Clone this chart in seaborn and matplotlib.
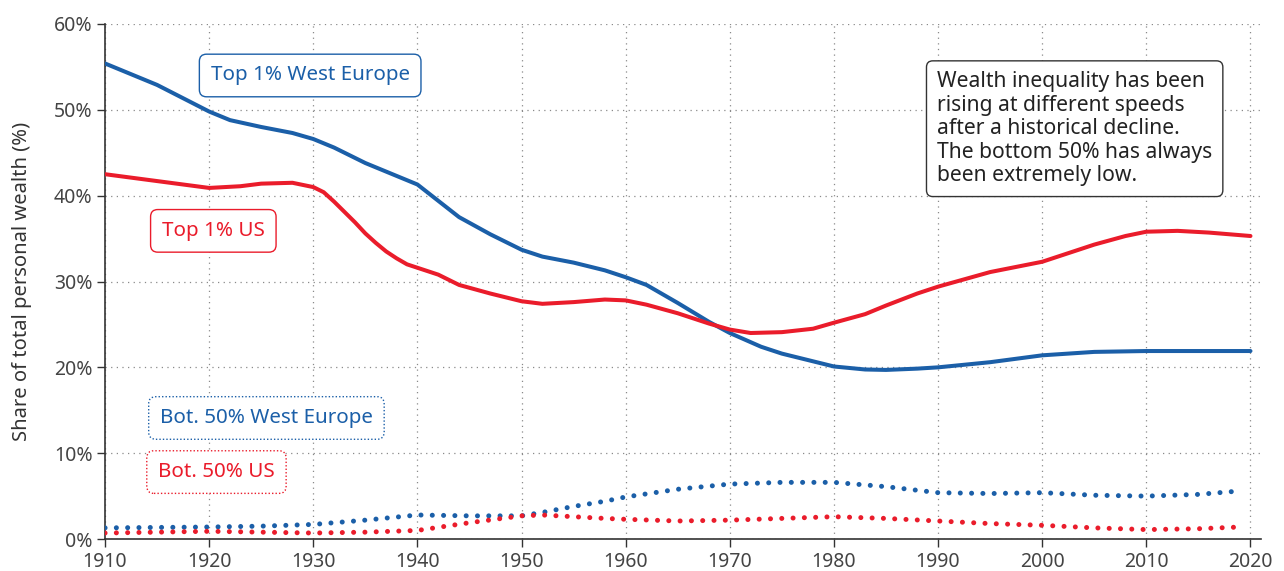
import matplotlib
matplotlib.use("Agg")
import matplotlib.pyplot as plt
import seaborn as sns
import pandas as pd
from matplotlib.ticker import FuncFormatter

# ---------------- data ----------------
years_top_we = [1910, 1915, 1920, 1922, 1925, 1928, 1930, 1932, 1935, 1938, 1940, 1944,
                1947, 1950, 1952, 1955, 1958, 1960, 1962, 1965, 1968, 1970, 1973, 1975,
                1978, 1980, 1983, 1985, 1988, 1990, 1995, 2000, 2005, 2010, 2015, 2020]
top_we = [55.4, 52.9, 49.8, 48.8, 48.0, 47.3, 46.6, 45.6, 43.8, 42.3, 41.3, 37.5,
          35.5, 33.7, 32.9, 32.2, 31.3, 30.5, 29.6, 27.5, 25.3, 24.0, 22.4, 21.6,
          20.7, 20.1, 19.75, 19.7, 19.85, 20.0, 20.6, 21.4, 21.8, 21.9, 21.9, 21.9]

years_top_us = [1910, 1915, 1920, 1923, 1925, 1928, 1930, 1931, 1932, 1933, 1934, 1935,
                1936, 1937, 1938, 1939, 1940, 1942, 1944, 1947, 1950, 1952, 1955, 1958,
                1960, 1962, 1965, 1968, 1970, 1972, 1975, 1978, 1980, 1983, 1985, 1988,
                1990, 1995, 2000, 2003, 2005, 2008, 2010, 2013, 2016, 2020]
top_us = [42.5, 41.7, 40.9, 41.1, 41.4, 41.5, 41.0, 40.4, 39.3, 38.1, 36.9, 35.6,
          34.5, 33.5, 32.7, 32.0, 31.6, 30.8, 29.6, 28.6, 27.7, 27.4, 27.6, 27.9,
          27.8, 27.3, 26.3, 25.1, 24.4, 24.0, 24.1, 24.5, 25.2, 26.2, 27.2, 28.6,
          29.4, 31.1, 32.3, 33.5, 34.3, 35.3, 35.8, 35.9, 35.7, 35.3]

years_bot = [1910, 1915, 1920, 1925, 1930, 1935, 1940, 1945, 1950, 1952, 1955, 1958,
             1960, 1965, 1970, 1975, 1980, 1985, 1990, 1995, 2000, 2005, 2010, 2015, 2019]
bot_we = [1.3, 1.35, 1.4, 1.5, 1.7, 2.2, 2.8, 2.7, 2.7, 3.1, 3.8, 4.4,
          4.9, 5.8, 6.4, 6.6, 6.6, 6.1, 5.4, 5.3, 5.4, 5.1, 5.0, 5.2, 5.6]
bot_us = [0.7, 0.8, 0.9, 0.8, 0.7, 0.8, 1.0, 1.9, 2.7, 2.8, 2.6, 2.4,
          2.3, 2.1, 2.2, 2.4, 2.6, 2.4, 2.1, 1.8, 1.6, 1.3, 1.1, 1.2, 1.4]

x_ticks = [1910, 1920, 1930, 1940, 1950, 1960, 1970, 1980, 1990, 2000, 2010, 2020]
y_ticks = [0, 10, 20, 30, 40, 50, 60]

BLUE = "#1b5fa8"
RED = "#ea1c2b"
DARK = "#333333"

# ---------------- style ----------------
sns.set_theme(style="white")
plt.rcParams["font.family"] = ["Noto Sans", "DejaVu Sans"]

fig = plt.figure(figsize=(12.84, 5.71), dpi=100)
ax = fig.add_axes([0.0818, 0.056, 0.9002, 0.902])

df_top_we = pd.DataFrame({"year": years_top_we, "share": top_we})
df_top_us = pd.DataFrame({"year": years_top_us, "share": top_us})
df_bot_we = pd.DataFrame({"year": years_bot, "share": bot_we})
df_bot_us = pd.DataFrame({"year": years_bot, "share": bot_us})

sns.lineplot(data=df_top_we, x="year", y="share", color=BLUE, lw=2.9, ax=ax,
             solid_capstyle="round", solid_joinstyle="round", zorder=4)
sns.lineplot(data=df_top_us, x="year", y="share", color=RED, lw=2.9, ax=ax,
             solid_capstyle="round", solid_joinstyle="round", zorder=4)
sns.lineplot(data=df_bot_we, x="year", y="share", color=BLUE, lw=3.6, ax=ax,
             linestyle=(0, (0.01, 2.25)), dash_capstyle="round", zorder=4)
sns.lineplot(data=df_bot_us, x="year", y="share", color=RED, lw=3.6, ax=ax,
             linestyle=(0, (0.01, 2.25)), dash_capstyle="round", zorder=4)

ax.set_xlim(1910, 2021)
ax.set_ylim(0, 60)
ax.set_xticks(x_ticks)
ax.set_yticks(y_ticks)
ax.yaxis.set_major_formatter(FuncFormatter(lambda v, p: f"{int(v)}%"))

ax.grid(True, which="major", color="#8a8a8a", linestyle=(0, (1, 3.5)), lw=0.9, zorder=0)
for s in ["top", "right"]:
    ax.spines[s].set_visible(False)
for s in ["left", "bottom"]:
    ax.spines[s].set_color(DARK)
    ax.spines[s].set_linewidth(1.2)

ax.tick_params(axis="both", which="major", length=6, width=1, color=DARK,
               labelsize=14, labelcolor="#444444", direction="out",
               bottom=True, left=True, pad=3)
ax.set_xlabel("")
ax.set_ylabel("Share of total personal wealth (%)", fontsize=14.5, color=DARK, labelpad=16)

# ---------------- labels ----------------
def label(x, y, txt, color, ls="-"):
    ax.text(x, y, txt, color=color, fontsize=14.8, ha="center", va="center", zorder=6,
            bbox=dict(boxstyle="round,pad=0.55,rounding_size=0.35", fc="white",
                      ec=color, lw=1.0, ls=ls))

label(1929.7, 54.0, "Top 1% West Europe", BLUE)
label(1920.4, 35.9, "Top 1% US", RED)
label(1925.5, 14.1, "Bot. 50% West Europe", BLUE, ls=(0, (1, 1.5)))
label(1920.7, 7.8, "Bot. 50% US", RED, ls=(0, (1, 1.5)))

ax.text(1989.9, 47.8,
        "Wealth inequality has been\nrising at different speeds\nafter a historical decline.\n"
        "The bottom 50% has always\nbeen extremely low.",
        color="#222222", fontsize=15.2, ha="left", va="center", linespacing=1.15, zorder=6,
        bbox=dict(boxstyle="round,pad=0.5,rounding_size=0.3", fc="white", ec=DARK, lw=1.0))

fig.savefig("out.png", dpi=100)
